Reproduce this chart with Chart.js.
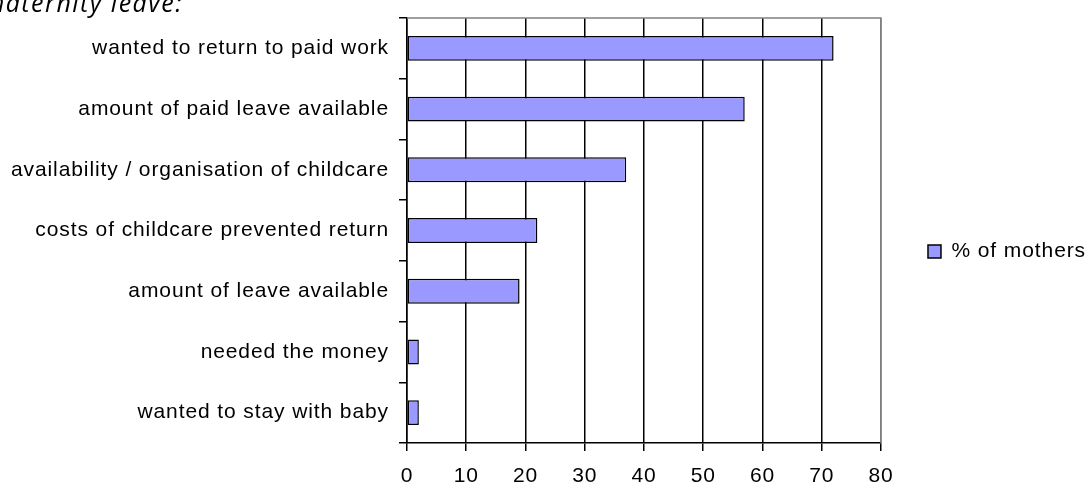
<!DOCTYPE html>
<html>
<head>
<meta charset="utf-8">
<script src="https://cdn.jsdelivr.net/npm/chart.js@4.4.1/dist/chart.umd.min.js"></script>
<style>
  html, body { margin: 0; padding: 0; background: #fff; overflow: hidden; }
  #wrap { position: relative; width: 1087px; height: 485px; }
  #title {
    position: absolute; right: 904px; top: -15px; white-space: nowrap;
    font: italic 25px 'Open Sans', sans-serif; letter-spacing: 1.5px; color: #000;
  }
</style>
</head>
<body>
<div id="wrap">
  <div id="title">maternity leave:</div>
  <canvas id="c" width="1087" height="485"></canvas>
</div>
<script>
// reasons, top to bottom as shown
const categories = [
  'wanted to return to paid work',
  'amount of paid leave available',
  'availability / organisation of childcare',
  'costs of childcare prevented return',
  'amount of leave available',
  'needed the money',
  'wanted to stay with baby'
];
const mothers = [72, 57, 37, 22, 19, 2, 2];
const xTicks = [0, 10, 20, 30, 40, 50, 60, 70, 80];

const FONT = "'Liberation Sans', Arial, sans-serif";
const SPACING = '0.9px';

// the reference text is drawn a bit spaced out
const spacing = {
  id: 'spacing',
  beforeLayout(chart) { chart.ctx.letterSpacing = SPACING; },
  beforeDraw(chart) { chart.ctx.letterSpacing = SPACING; }
};

// gray frame on top/right of plot area
const frame = {
  id: 'frame',
  beforeDatasetsDraw(chart) {
    const { ctx, chartArea: { left, right, top, bottom } } = chart;
    ctx.save();
    ctx.strokeStyle = '#808080';
    ctx.lineWidth = 1.5;
    ctx.beginPath();
    ctx.moveTo(left, top);
    ctx.lineTo(right, top);
    ctx.lineTo(right, bottom);
    ctx.stroke();
    ctx.restore();
  }
};

new Chart(document.getElementById('c'), {
  type: 'bar',
  data: {
    labels: categories,
    datasets: [{
      label: '% of mothers',
      data: mothers,
      backgroundColor: '#9999ff',
      borderColor: '#000',
      borderWidth: 1.5,
      borderSkipped: false,
      categoryPercentage: 1,
      barPercentage: 0.41
    }]
  },
  options: {
    indexAxis: 'y',
    responsive: false,
    animation: false,
    layout: { padding: { top: 18, right: -9, left: 0, bottom: 0 } },
    plugins: {
      tooltip: { enabled: false },
      legend: {
        position: 'right',
        labels: {
          color: '#000',
          font: { family: FONT, size: 21 },
          boxWidth: 13, boxHeight: 13,
          padding: 3,
          generateLabels() {
            return [{ text: '% of mothers', fillStyle: '#9999ff', strokeStyle: '#000', lineWidth: 1.5, datasetIndex: 0 }];
          }
        }
      }
    },
    scales: {
      x: {
        min: 0, max: 80,
        afterBuildTicks(axis) { axis.ticks = xTicks.map(v => ({ value: v })); },
        afterFit(axis) { axis.height = 42; axis.paddingLeft = 0; axis.paddingRight = 0; },
        ticks: { color: '#000', font: { family: FONT, size: 21 }, padding: 13 },
        grid: {
          color: c => (c.tick && c.tick.value === 80) ? '#808080' : '#000',
          lineWidth: 1.5,
          tickLength: 8,
          tickColor: '#000'
        },
        border: { color: '#000', width: 1.5 }
      },
      y: {
        afterFit(axis) { axis.width = 407; axis.paddingTop = 0; axis.paddingBottom = 0; },
        ticks: { color: '#000', font: { family: FONT, size: 21 }, padding: 10 },
        grid: { drawOnChartArea: false, offset: true, tickLength: 8, color: '#000', lineWidth: 1.5 },
        border: { color: '#000', width: 1.5 }
      },
      // empty spacer between plot and legend
      gap: {
        type: 'category',
        axis: 'y',
        position: 'right',
        labels: [],
        afterFit(axis) { axis.width = 44; },
        ticks: { display: false },
        grid: { display: false },
        border: { display: false }
      }
    }
  },
  plugins: [spacing, frame]
});
</script>
</body>
</html>
